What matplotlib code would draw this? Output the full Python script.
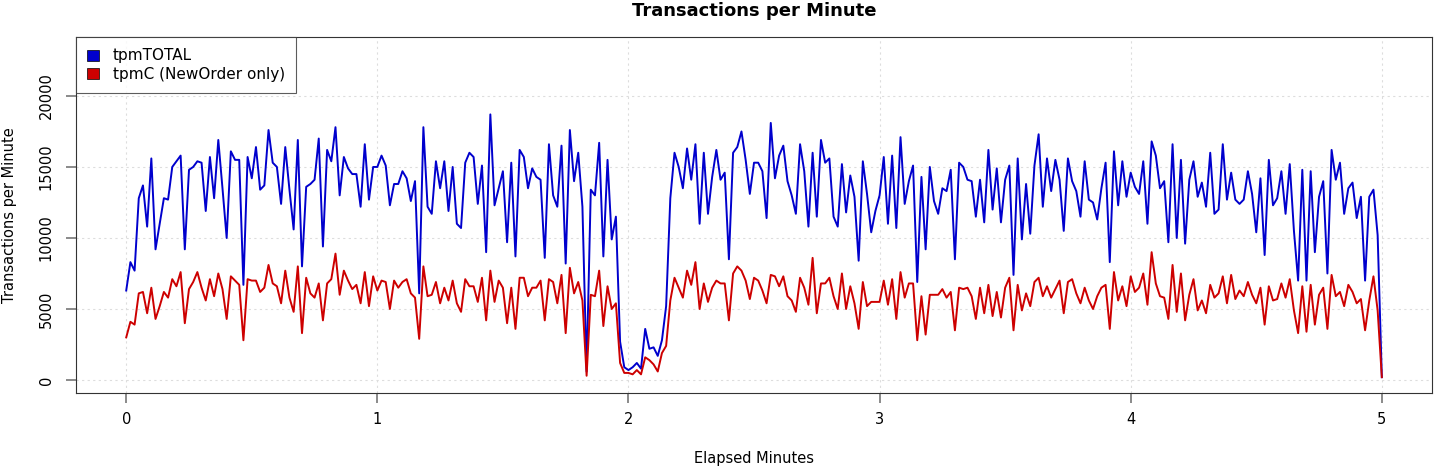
import numpy as np
import matplotlib
matplotlib.use('Agg')
import matplotlib.pyplot as plt
from matplotlib.patches import Patch

# valores, un punto por segundo
tpm_total = [
    6300, 8300, 7700, 12800, 13700, 10800, 15600, 9200, 11000, 12800,
    12700, 15000, 15400, 15800, 9200, 14800, 15000, 15400, 15300, 11900,
    15700, 12800, 16900, 13500, 10000, 16100, 15500, 15500, 6700, 15700,
    14200, 16400, 13400, 13700, 17600, 15300, 15000,
    12400, 16400, 13400, 10600, 16900, 8000, 13600, 13800, 14100, 17000,
    9400, 16200, 15400, 17800, 13000, 15700, 14900, 14500, 14500, 12200,
    16600, 12700, 15000, 15000, 15800, 15100, 12300, 13800, 13800, 14700,
    14200, 12600, 14000, 6100, 17800, 12200, 11700, 15400, 13500,
    15400, 11900, 15000, 11000, 10700, 15300, 16000, 15700, 12400, 15100,
    9000, 18700, 12300, 13500, 14700, 9700, 15300, 8700, 16200, 15700,
    13500, 14900, 14300, 14100, 8600, 16600, 13000, 12200, 16500, 8200,
    17600, 14000, 16000, 12200, 600, 13400, 13000, 16700,
    8700, 15500, 9900, 11500, 2700, 900, 700, 900, 1200, 800,
    3600, 2200, 2300, 1700, 2800, 5200, 12800, 16000, 15000, 13500,
    16300, 14100, 16600, 11000, 16000, 11700, 14300, 16200, 14100, 14600,
    8500, 16000, 16400, 17500, 15500, 13100, 15300, 15300, 14700, 11400,
    18100, 14200, 15800, 16500, 14000, 13000, 11700, 16600, 14700, 10800,
    16000, 11500, 16900, 15300, 15600, 11500, 10800, 15200, 11800, 14400,
    12900, 8400, 15400, 13100, 10400, 11900, 13000, 15700, 11000, 15800,
    10700, 17100, 12400, 14000, 15100, 6900, 14300, 9200, 15000, 12600,
    11700, 13500, 13300, 14800, 8500, 15300, 15000, 14100, 14000, 11500,
    14100, 11100, 16200, 12000, 14900, 11100, 14100, 15100, 7400, 15600,
    9900, 13800, 10300, 15100, 17300, 12200, 15600, 13300, 15500, 14100,
    10500, 15600, 14000, 13300, 11500, 15400, 12700, 12500, 11300,
    13500, 15300, 8300, 16100, 12300, 15400, 12900, 14600, 13600, 13100,
    15400, 11000, 16800, 15800, 13500, 14000, 9700, 16600, 10000, 15500,
    9600, 14100, 15400, 12900, 13900, 12200, 16000, 11700, 12000, 16600,
    12700, 14600, 12700, 12400, 12700, 14700, 13100, 10400, 14200,
    8800, 15500, 12300, 12800, 14700, 11700, 15200, 10500, 7000, 14800,
    7000, 14700, 9000, 12900, 14000, 7500, 16200, 14100, 15300, 11700,
    13500, 13900, 11400, 12900, 7000, 12900, 13400, 10200, 200,
]

tpm_c = [
    3000, 4100, 3900, 6100, 6200, 4700, 6500, 4300, 5200, 6200,
    5800, 7100, 6600, 7600, 4000, 6400, 6900, 7600, 6500, 5600,
    7100, 5900, 7500, 6400, 4300, 7300, 7000, 6700, 2800, 7100,
    7000, 7000, 6200, 6500, 8100, 6800, 6600,
    5400, 7700, 5800, 4800, 8000, 3300, 7200, 6100, 5800, 6800,
    4200, 6800, 7100, 8900, 6000, 7700, 7000, 6400, 6700, 5400,
    7600, 5200, 7300, 6300, 7000, 6900, 5000, 7000, 6500, 6900,
    7100, 6100, 5800, 2900, 8000, 5900, 6000, 6900, 5400,
    6500, 5600, 7000, 5400, 4800, 7100, 6600, 6600, 5500, 7200,
    4200, 7700, 5500, 7000, 6500, 4000, 6500, 3600, 7200, 7200,
    5900, 6500, 6500, 7000, 4200, 7100, 6900, 5400, 7400, 3300,
    7900, 6100, 6900, 5600, 300, 6000, 5900, 7700,
    3800, 6600, 5000, 5400, 1200, 500, 500, 400, 700, 400,
    1600, 1400, 1100, 600, 1900, 2400, 5600, 7200, 6500, 5800,
    7700, 6700, 8300, 5000, 6800, 5500, 6500, 7000, 6800, 6800,
    4200, 7500, 8000, 7700, 7000, 5700, 7200, 7000, 6300, 5400,
    7400, 7300, 6600, 7300, 5900, 5600, 4800, 7200, 6500, 5300,
    8600, 4700, 6800, 6800, 7200, 5900, 5000, 7500, 5000, 6600,
    5400, 3600, 6900, 5200, 5500, 5500, 5500, 7000, 5300, 7100,
    4300, 7600, 5800, 6800, 6800, 2800, 5900, 3200, 6000, 6000,
    6000, 6400, 5800, 6200, 3500, 6500, 6400, 6500, 5900, 4300,
    6500, 4700, 6700, 4500, 6200, 4400, 6500, 7200, 3500, 6700,
    4900, 6100, 5200, 6900, 7200, 5900, 6600, 5800, 6400, 7000,
    4700, 6900, 7100, 6100, 5400, 6500, 5600, 5000, 5900,
    6500, 6700, 3600, 7600, 5600, 6600, 5200, 7300, 6200, 6500,
    7500, 5300, 9000, 6800, 5900, 5800, 4300, 8100, 4800, 7500,
    4200, 6000, 7100, 4900, 5600, 4700, 6700, 5800, 6100, 7300,
    5400, 7400, 5700, 6300, 5900, 6900, 6000, 5400, 6500,
    3900, 6600, 5600, 5700, 6800, 5800, 7100, 4900, 3300, 6600,
    3400, 6700, 3900, 6000, 6500, 3600, 7400, 5900, 6200, 5200,
    6700, 6200, 5400, 5700, 3500, 5600, 7300, 4900, 200,
]

minutos = np.arange(len(tpm_total)) / 60.0

azul = '#0000cd'
rojo = '#cd0000'

fig = plt.figure(figsize=(14.42, 4.70), dpi=100)
ax = fig.add_axes([0.0527, 0.1638, 0.9404, 0.7575])

ax.plot(minutos, tpm_total, color=azul, lw=1.4)
ax.plot(minutos, tpm_c, color=rojo, lw=1.4)

ax.set_xlim(-0.2, 5.2)
ax.set_ylim(-915, 24150)
ax.set_xticks(range(0, 6))
ax.set_yticks(range(0, 20001, 5000))
ax.grid(True, color='#dddddd', linestyle=(0, (2, 3)), lw=0.8)
ax.tick_params(axis='both', labelsize=10.5, direction='out', length=7,
               color='#777777', width=1.2)
ax.tick_params(axis='y', pad=9)
ax.tick_params(axis='x', pad=7)
for lab in ax.get_yticklabels():
    lab.set_rotation(90)
    lab.set_va('center')
for s in ax.spines.values():
    s.set_color('#333333')

ax.set_xlabel('Elapsed Minutes', fontsize=10.5, labelpad=17)
ax.set_ylabel('Transactions per Minute', fontsize=10.5, labelpad=16)
fig.text(0.523, 0.976, 'Transactions per Minute', ha='center', va='center',
         fontsize=13, fontweight='bold')

handles = [Patch(facecolor=azul, edgecolor='black', lw=0.5, label='tpmTOTAL'),
           Patch(facecolor=rojo, edgecolor='black', lw=0.5, label='tpmC (NewOrder only)')]
leg = ax.legend(handles=handles, loc='upper left', fontsize=11, fancybox=False,
                borderaxespad=0, handlelength=0.75, handleheight=0.75,
                handletextpad=0.9, labelspacing=0.2, borderpad=0.75)
leg.get_frame().set_edgecolor('#333333')
leg.get_frame().set_linewidth(0.8)

fig.savefig('out.png', dpi=100)
